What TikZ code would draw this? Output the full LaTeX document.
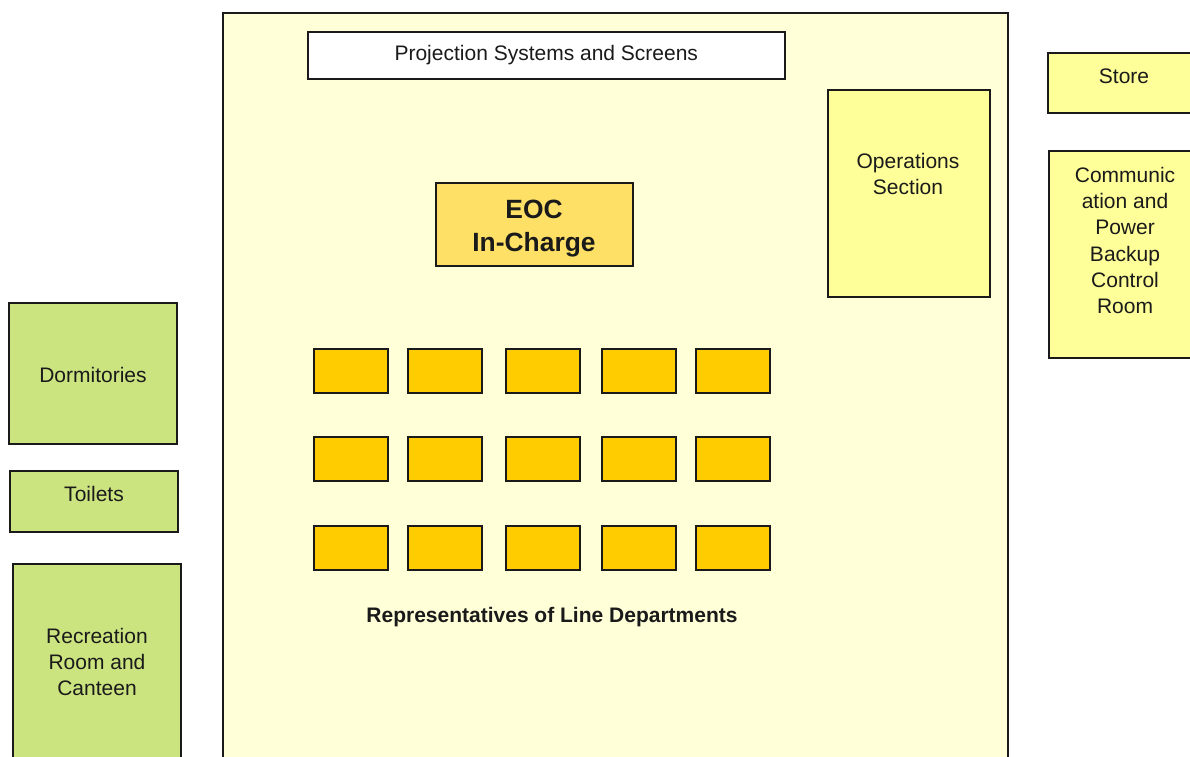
\documentclass[tikz,border=0pt]{standalone}
\usepackage{fontspec}
\setmainfont{Liberation Sans}
\definecolor{linec}{HTML}{1A1A1A}
\definecolor{hallfill}{HTML}{FFFFD8}
\definecolor{roomyellow}{HTML}{FFFF99}
\definecolor{eocfill}{HTML}{FFE066}
\definecolor{deskfill}{HTML}{FFCC00}
\definecolor{roomgreen}{HTML}{CCE480}
\begin{document}
\begin{tikzpicture}[x=1pt,y=-1pt,
  room/.style={draw=linec, line width=1.6pt, inner sep=0pt, anchor=north west},
  desk/.style={room, fill=deskfill, minimum width=74pt, minimum height=44pt},
  lbl/.style={font=\fontsize{21}{26.3}\selectfont, align=center, inner sep=0pt, text=linec},
  boldlbl/.style={lbl, font=\fontsize{21}{26.3}\selectfont\bfseries}]
\useasboundingbox (0,0) rectangle (1190,756);
\clip (0,0) rectangle (1190,756);
\fill[white] (0,0) rectangle (1190,756);
% main hall
\node[room, fill=hallfill, minimum width=785pt, minimum height=770pt] (hall) at (222,12) {};
\node[room, fill=white, minimum width=477pt, minimum height=47pt, lbl] (proj) at (307,31) {Projection Systems and Screens};
\node[room, fill=eocfill, minimum width=197pt, minimum height=83pt] (eoc) at (435,182) {};
\node[lbl, font=\fontsize{26.4}{33}\selectfont\bfseries] (eocT) at (534,229) {EOC\\In-Charge};
\node[room, fill=roomyellow, minimum width=162pt, minimum height=207pt] (ops) at (827,89) {};
\node[lbl] (opsT) at (908,174) {Operations\\Section};
% desks
\foreach \c/\x in {1/313,2/407,3/505,4/601,5/695}{
  \foreach \r/\y in {1/348,2/436,3/525}{
    \node[desk] (d\r\c) at (\x,\y) {};
  }
}
\node[boldlbl] (reps) at (552,617) {Representatives of Line Departments};
% right rooms
\node[room, fill=roomyellow, minimum width=170pt, minimum height=60pt] (store) at (1047,52) {};
\node[lbl] (storeT) at (1124,76) {Store};
\node[room, fill=roomyellow, minimum width=170pt, minimum height=207pt] (comm) at (1048,150) {};
\node[lbl] (commT) at (1125,240.5) {Communic\\ation and\\Power\\Backup\\Control\\Room};
% left rooms
\node[room, fill=roomgreen, minimum width=168pt, minimum height=141pt] (dorm) at (8,302) {};
\node[lbl] (dormT) at (93,375) {Dormitories};
\node[room, fill=roomgreen, minimum width=168pt, minimum height=61pt] (toil) at (9,470) {};
\node[lbl] (toilT) at (94,494) {Toilets};
\node[room, fill=roomgreen, minimum width=168pt, minimum height=220pt] (recr) at (12,563) {};
\node[lbl] (recrT) at (97,662) {Recreation\\Room and\\Canteen};
\end{tikzpicture}
\end{document}
